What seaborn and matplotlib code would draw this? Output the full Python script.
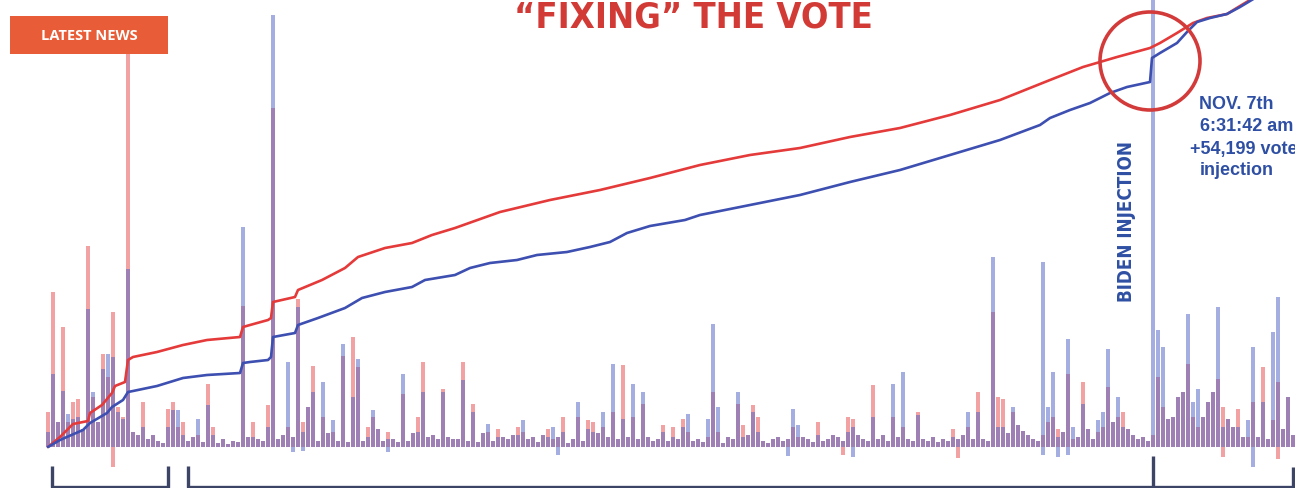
import numpy as np
import pandas as pd
import seaborn as sns
import matplotlib
matplotlib.use("Agg")
import matplotlib.pyplot as plt
from matplotlib.patches import Rectangle, Ellipse

# ---------------- DATA ----------------
# batch index (one bar per reporting batch), heights in hundreds of votes
base_votes = [12, 30, 25, 20, 15, 28, 22, 18, 35, 30, 25, 40, 30, 45, 38, 30, 25,
              15, 12, 10, 8, 12, 6, 4, 3, 10, 8, 12, 6, 10, 8, 5, 12, 6, 4, 8, 3, 6, 5, 8,
              10, 12, 8, 6, 15, 10, 8, 12, 6, 10, 8, 5, 12, 8, 6, 10, 14, 8, 6, 10, 5, 8, 12,
              6, 4, 8, 10, 6, 12, 8, 5, 10, 6, 14, 8, 6, 10, 12, 8, 5, 10, 8,
              8, 12, 6, 10, 5, 14, 8, 6, 4, 10, 8, 12, 6, 4, 8, 10, 5, 12, 8, 6, 10, 5, 4, 8,
              12, 6, 10, 8, 14, 6, 10, 12, 8, 15, 10, 6, 8, 12, 10, 6,
              8, 10, 6, 12, 8, 14, 10, 6, 8, 5, 12, 8, 6, 4, 10, 8, 6, 5, 12, 8, 10, 6, 4, 8,
              10, 6, 8, 12, 6, 10, 8, 5, 10, 6, 8, 12, 10, 6, 8, 10, 12, 8,
              6, 10, 8, 12, 6, 8, 10, 14, 8, 6, 4, 8, 6, 10, 5, 8, 6, 10, 8, 12, 6, 8, 10, 8,
              6, 12, 10, 8, 14, 18, 22, 16, 12, 8, 6, 5, 8, 10, 12,
              15, 8, 6, 10, 12, 18, 8, 6, 14, 20, 25, 28, 22, 18, 12, 8, 10, 6, 8, 10, 22, 28,
              30, 26, 20, 14, 10, 8, 30, 45, 55, 40, 35, 28, 20, 12, 10, 8, 12, 10, 14, 8, 20,
              25, 18, 12, 12]

spike_batch = [0, 1, 3, 4, 5, 6, 8, 9, 11, 12, 13, 14, 15, 16, 19, 24, 25, 26, 27, 30,
               32, 33, 39, 41, 44, 45, 48, 50, 51, 52, 53, 55, 57, 59, 61, 62, 64, 65, 66,
               68, 71, 74, 75, 79, 83, 85, 88, 90, 94, 95, 100, 101, 103, 106, 108, 109,
               111, 113, 115, 117, 119, 123, 125, 127, 128, 132, 133, 134, 138, 139, 141,
               142, 149, 150, 154, 160, 161, 165, 169, 171, 174, 181, 184, 186, 189, 190,
               191, 193, 199, 200, 201, 202, 204, 205, 207, 210, 211, 212, 214, 215, 221,
               222, 223, 226, 227, 228, 229, 230, 234, 235, 238, 240, 241, 243, 245, 246, 248]
spike_trump = [35, 155, 120, 25, 45, 48, 201, 50, 93, 70, 135, 40, 30, 394, 45, 38, 45, 20,
               25, 12, 63, 20, 141, 25, 42, 339, 20, 148, 25, 40, 81, 30, 15, 91, 110, 80,
               20, 30, 18, 15, 53, 30, 85, 58, 85, 43, 15, 18, 20, 15, 18, 8, 30, 30, 27, 25,
               20, 35, 82, 30, 43, 22, 20, 28, 15, 10, 55, 15, 43, 22, 42, 30, 20, 10, 25,
               30, 28, 62, 30, 20, 35, 18, 20, 55, 135, 50, 48, 35, 12, 25, 30, 18, 73, 8,
               65, 15, 20, 60, 30, 35, 12, 70, 40, 50, 55, 83, 30, 20, 68, 40, 38, 10, 45,
               80, 27, 65, 50]
spike_biden = [15, 73, 56, 33, 28, 30, 138, 55, 78, 93, 90, 35, 28, 178, 20, 20, 37, 37,
               12, 28, 42, 12, 220, 10, 20, 432, 85, 140, 15, 40, 55, 65, 27, 103, 50, 88,
               10, 37, 18, 8, 73, 15, 55, 55, 67, 35, 23, 10, 12, 27, 10, 20, 15, 45, 18, 15,
               35, 83, 28, 63, 55, 15, 10, 20, 33, 28, 123, 40, 55, 10, 35, 15, 38, 22, 12,
               15, 20, 30, 63, 75, 32, 10, 35, 35, 190, 20, 20, 40, 185, 40, 75, 10, 108, 20,
               43, 27, 35, 98, 50, 20, 542, 117, 100, 50, 55, 133, 45, 58, 140, 20, 20, 27,
               100, 45, 115, 150, 50]

neg_batch = [13, 49, 51, 68, 102, 148, 159, 161, 182, 199, 202, 204, 235, 241, 246]
neg_trump = [-20, 0, 0, 0, 0, 0, -8, 0, -11, 0, 0, 0, -10, 0, -12]
neg_biden = [0, -5, -4, -5, -8, -9, 0, -10, 0, -8, -10, -8, 0, -20, 0]

# cumulative totals (arbitrary vote units) at batch positions
trump_cum_batch = [0, 2.4, 5, 8, 8.4, 10.8, 12.8, 13.4, 15.4, 16, 17, 21.8, 27, 31.8, 38.4,
                   39, 40.4, 44, 44.6, 45, 49.4, 50, 54.8, 59.4, 62, 67.4, 72.8, 76.8, 81.4,
                   90.4, 100.4, 110.4, 120.4, 130.4, 140.4, 150.4, 160.4, 170.4, 180.4,
                   190.4, 200.4, 207, 213.8, 220.4, 222.4, 225.8, 229, 231.8, 235.8, 238.4,
                   242.4]
trump_cum = [0, 10, 23, 26, 34, 42, 54, 61, 65, 87, 90, 95, 102, 107, 110, 120, 122, 127,
             129, 145, 150, 157, 167, 179, 190, 199, 204, 212, 219, 235, 247, 257, 269,
             282, 292, 299, 310, 319, 332, 347, 367, 380, 390, 399, 404, 414, 424, 429,
             433, 441, 453]
biden_cum_batch = [0, 2.4, 7, 8.4, 11.8, 12.8, 15, 16, 17, 21.8, 27, 31.8, 38.4, 39, 40.4,
                   44, 44.6, 45, 49.4, 50, 54, 59.4, 62.8, 67.4, 72.8, 75.4, 81.4, 84.4,
                   88.4, 93.8, 97.8, 103.8, 108.4, 112.4, 115.8, 120.4, 127.4, 130.4, 140.4,
                   150.4, 160.4, 170.4, 180.4, 190.4, 198.4, 200.4, 204.4, 208.4, 212.4,
                   215.8, 220.4, 220.8, 222.4, 225.8, 227.8, 229.8, 232.4, 235.8, 238.4,
                   242.4]
biden_cum = [0, 7, 17, 24, 34, 40, 47, 55, 56, 61, 69, 72, 74, 84, 85, 87, 90, 110, 114,
             122, 129, 139, 149, 155, 160, 167, 172, 179, 184, 187, 192, 195, 200, 205,
             214, 221, 227, 232, 242, 252, 265, 277, 292, 307, 322, 329, 337, 344, 354,
             360, 365, 389, 394, 404, 415, 425, 429, 433, 440, 452]

title_text = "\u201cFIXING\u201d THE VOTE"
badge_text = "LATEST NEWS"
vertical_label = "BIDEN INJECTION"
note_lines = ["NOV. 7th", "6:31:42 am", "+54,199 votes", "injection"]

# ---------------- STYLE ----------------
RED_BAR = "#e8474a"
BLUE_BAR = "#4a5fc4"
RED_LINE = "#e53a3a"
BLUE_LINE = "#3d4fb0"
NAVY = "#2e4fa3"
TITLE_RED = "#d23a36"
BRACKET = "#3d4566"

sns.set_theme(style="white")
plt.rcParams["font.family"] = ["Liberation Sans", "DejaVu Sans"]

W, H = 1295, 488
fig = plt.figure(figsize=(W / 100, H / 100), dpi=100)
fig.patch.set_facecolor("white")


def fx(px):
    return px / W


def fy(py):
    return 1 - py / H


L_PX, BOT_PX = 40, 470
ax = fig.add_axes([fx(L_PX), fy(BOT_PX), 1 - fx(L_PX), BOT_PX / H])

n = len(base_votes)
batch = np.arange(n)
trump = np.array(base_votes, dtype=float)
biden = np.array(base_votes, dtype=float)
trump[spike_batch] = spike_trump
biden[spike_batch] = spike_biden
trump_neg = np.zeros(n)
biden_neg = np.zeros(n)
trump_neg[neg_batch] = neg_trump
biden_neg[neg_batch] = neg_biden

bar_kw = dict(native_scale=True, saturation=1, width=0.62, linewidth=0,
              errorbar=None, ax=ax)
sns.barplot(x=batch, y=trump, color=RED_BAR, alpha=0.5, **bar_kw)
sns.barplot(x=batch, y=trump_neg, color=RED_BAR, alpha=0.5, **bar_kw)
sns.barplot(x=batch, y=biden, color=BLUE_BAR, alpha=0.5, **bar_kw)
sns.barplot(x=batch, y=biden_neg, color=BLUE_BAR, alpha=0.5, **bar_kw)

x_lo = -(48 - L_PX) / 5
x_hi = (W - 48) / 5
ax.set_xlim(x_lo, x_hi)
ax.set_ylim(-(BOT_PX - 447), 447)
ax.axis("off")

ax2 = ax.twinx()
sns.lineplot(x=trump_cum_batch, y=trump_cum, color=RED_LINE, linewidth=1.9,
             estimator=None, sort=False, ax=ax2)
sns.lineplot(x=biden_cum_batch, y=biden_cum, color=BLUE_LINE, linewidth=1.9,
             estimator=None, sort=False, ax=ax2)
ax2.set_xlim(x_lo, x_hi)
ax2.set_ylim(-(BOT_PX - 447), 447)
ax2.axis("off")

# ---------------- bottom brackets ----------------
axb = fig.add_axes([fx(L_PX), 0, 1 - fx(L_PX), 34 / H])
axb.set_xlim(0, W - L_PX)
axb.set_ylim(0, 34)
axb.axis("off")
axb.patch.set_alpha(0)
bk = dict(color=BRACKET, linewidth=2.4, solid_capstyle="butt")
axb.plot([52 - L_PX, 52 - L_PX, 168 - L_PX, 168 - L_PX], [22, 1.5, 1.5, 22], **bk)
axb.plot([188 - L_PX, 188 - L_PX, W - L_PX], [22, 1.5, 1.5], **bk)
axb.plot([1153 - L_PX, 1153 - L_PX], [32, 1.5], **bk)
axb.plot([1293 - L_PX, 1293 - L_PX], [21, 1.5], **bk)

# ---------------- decorations ----------------
fig.patches.append(Rectangle((fx(10), fy(54)), 158 / W, 38 / H, transform=fig.transFigure,
                             facecolor="#e85d38", edgecolor="none", zorder=5))
fig.text(fx(89), fy(35.5), badge_text, color="white", fontsize=10.5, fontweight="bold",
         family=["Open Sans", "DejaVu Sans"], ha="center", va="center", zorder=6)

fig.text(fx(693), fy(27), title_text, color=TITLE_RED, fontsize=26, fontweight="heavy",
         family=["DejaVu Sans"], fontstretch="condensed", ha="center", va="baseline",
         zorder=6)

fig.text(fx(1126), fy(222), vertical_label, color=NAVY, fontsize=13.5, fontweight="bold",
         family=["DejaVu Sans"], fontstretch="condensed", rotation=90,
         ha="center", va="center", zorder=6)

note_pos = [(1199, 109), (1200, 131), (1190, 154), (1200, 175)]
for txt, (px, py) in zip(note_lines, note_pos):
    fig.text(fx(px), fy(py), txt, color=NAVY, fontsize=13, fontweight="bold",
             ha="left", va="baseline", zorder=6)

fig.patches.append(Ellipse((fx(1150), fy(61)), 100 / W, 98 / H, transform=fig.transFigure,
                           facecolor="none", edgecolor="#d33b3b", linewidth=2.6, zorder=6))

fig.savefig("out.png", dpi=100, facecolor="white")
